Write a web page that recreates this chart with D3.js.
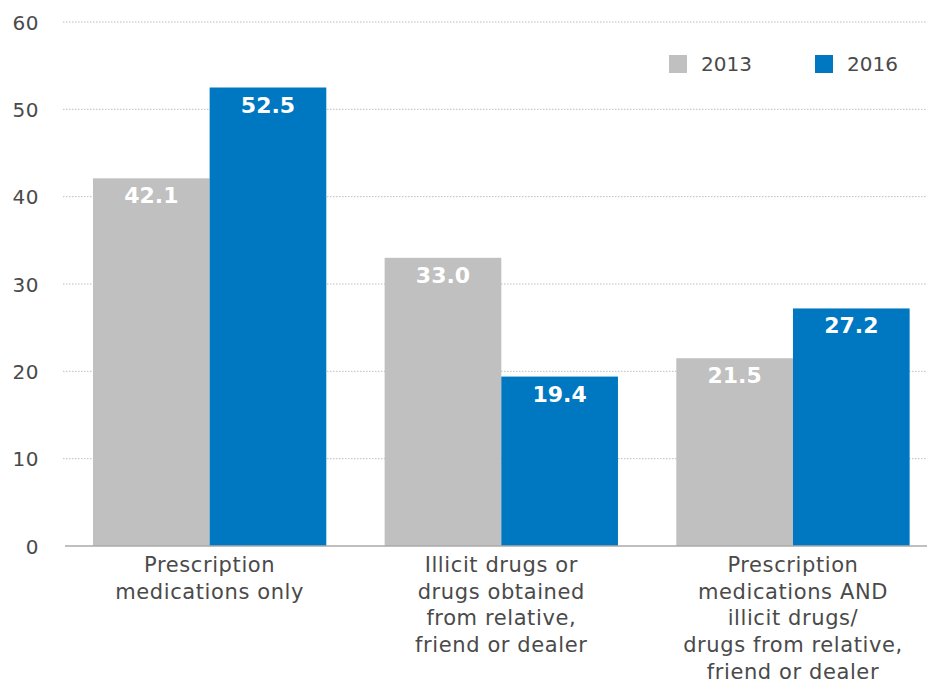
<!DOCTYPE html>
<html><head><meta charset="utf-8">
<script src="https://cdn.jsdelivr.net/npm/d3@7"></script>
<style>
html,body{margin:0;padding:0;background:#fff;}
svg{display:block;font-family:"DejaVu Sans",sans-serif;}
</style></head>
<body><svg id="chart" width="927" height="683"></svg>
<script>
const categories = [
  ["Prescription","medications only"],
  ["Illicit drugs or","drugs obtained","from relative,","friend or dealer"],
  ["Prescription","medications AND","illicit drugs/","drugs from relative,","friend or dealer"]
];
const seriesNames = ["2013","2016"];
const values2013 = [42.1, 33.0, 21.5];
const values2016 = [52.5, 19.4, 27.2];
const yTicks = [0,10,20,30,40,50,60];
const colors = ["#c0c0c0","#0077c1"];

const svg = d3.select("#chart");
const W = 927;
const y = d3.scaleLinear().domain([0,60]).range([546,22]);
const x0 = d3.scaleBand().domain(d3.range(categories.length)).range([63.8,938.8]).paddingInner(0.2).paddingOuter(0.1);
const x1 = d3.scaleBand().domain(seriesNames).range([0,x0.bandwidth()]);
const textCol = "#4a4a4a";

// gridlines
svg.append("g").selectAll("line").data(yTicks.filter(t=>t>0)).join("line")
  .attr("x1",63).attr("x2",W).attr("y1",d=>y(d)).attr("y2",d=>y(d))
  .attr("stroke","#bdbdbd").attr("stroke-width",1).attr("stroke-dasharray","1.5,1.5");

// y axis labels
const yAxis = d3.axisLeft(y).tickValues(yTicks).tickSize(0).tickPadding(0);
const ya = svg.append("g").attr("transform","translate(39,0)").call(yAxis);
ya.select(".domain").remove();
ya.selectAll("text").attr("font-size",20).attr("fill",textCol).attr("font-family","DejaVu Sans").attr("dy","0.36em").attr("letter-spacing",0.5);

// bars
const rows = categories.map((c,i)=>({i, vals:[values2013[i], values2016[i]]}));
const groups = svg.append("g").selectAll("g").data(rows).join("g")
  .attr("transform",d=>`translate(${x0(d.i)},0)`);
const bars = groups.selectAll("g").data(d=>d.vals.map((v,k)=>({k,v}))).join("g");
bars.append("rect")
  .attr("x",d=>x1(seriesNames[d.k])).attr("width",x1.bandwidth())
  .attr("y",d=>y(d.v)).attr("height",d=>y(0)-y(d.v))
  .attr("fill",d=>colors[d.k]);
bars.append("text")
  .attr("x",d=>x1(seriesNames[d.k])+x1.bandwidth()/2)
  .attr("y",d=>y(d.v)+25)
  .attr("text-anchor","middle").attr("fill","#fff").attr("font-weight","bold")
  .attr("font-size",22).text(d=>d.v.toFixed(1));

// baseline
svg.append("line").attr("x1",65).attr("x2",W).attr("y1",y(0)).attr("y2",y(0))
  .attr("stroke","#aaaaaa").attr("stroke-width",1.5);

// category labels
const cl = svg.append("g").selectAll("text").data(rows).join("text")
  .attr("x",d=>x0(d.i)+x0.bandwidth()/2).attr("text-anchor","middle")
  .attr("fill",textCol).attr("font-size",21).attr("letter-spacing",0.6);
cl.selectAll("tspan").data(d=>categories[d.i].map((t,j)=>({t,j,x:x0(d.i)+x0.bandwidth()/2}))).join("tspan")
  .attr("x",d=>d.x).attr("y",d=>572+d.j*26.7).text(d=>d.t);

// legend
const leg = svg.append("g").selectAll("g").data(seriesNames).join("g")
  .attr("transform",(d,i)=>`translate(${669+i*146},55)`);
leg.append("rect").attr("width",18).attr("height",18).attr("fill",(d,i)=>colors[i]);
leg.append("text").attr("x",32).attr("y",16).attr("font-size",20).attr("fill",textCol).text(d=>d);
</script></body></html>
